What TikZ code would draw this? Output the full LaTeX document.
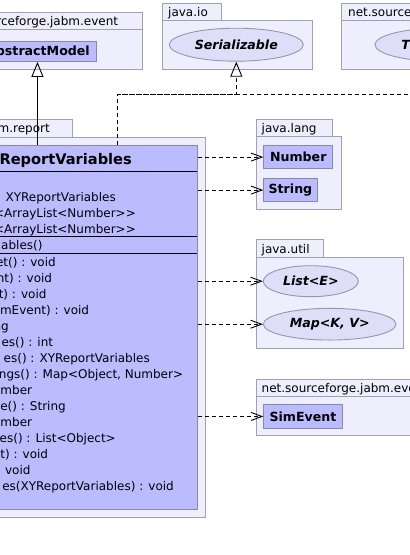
\documentclass[tikz,border=0pt]{standalone}
\usepackage{fontspec}
\setmainfont{DejaVu Sans}
\usetikzlibrary{arrows.meta,shapes.geometric}
\definecolor{pkgfill}{RGB}{238,238,253}
\definecolor{pkgdraw}{RGB}{160,160,180}
\definecolor{clsfill}{RGB}{187,187,255}
\definecolor{clsdraw}{RGB}{136,136,170}
\definecolor{iffill}{RGB}{222,222,248}
\definecolor{ifdraw}{RGB}{150,150,172}
\tikzset{
  pkgbox/.style={draw=pkgdraw, fill=pkgfill, line width=0.9pt, inner sep=0pt, anchor=north west},
  clsbox/.style={draw=clsdraw, fill=clsfill, line width=0.9pt, inner sep=0pt, anchor=north west},
  ifell/.style={ellipse, draw=ifdraw, fill=iffill, line width=0.9pt, inner sep=0pt, font=\fontsize{12.6}{15}\selectfont\bfseries\itshape},
  txt/.style={inner sep=0pt, font=\fontsize{12}{14}\selectfont},
  btxt/.style={inner sep=0pt, font=\fontsize{12.6}{15}\selectfont\bfseries},
  ttxt/.style={inner sep=0pt, font=\fontsize{14.6}{17}\selectfont\bfseries},
  sepline/.style={draw=black, line width=0.9pt},
  dep/.style={draw=black, line width=0.9pt, dash pattern=on 4pt off 3pt, -{Straight Barb[length=11pt,width=8pt]}},
  realiz/.style={draw=black, line width=0.9pt, dash pattern=on 4pt off 3pt, -{Triangle[open,length=15pt,width=12pt]}},
  inh/.style={draw=black, line width=0.9pt, -{Triangle[open,length=15pt,width=12pt]}}
}
\begin{document}
\begin{tikzpicture}[x=1pt,y=-1pt]
\useasboundingbox (0,0) rectangle (410,555);
\clip (0,0) rectangle (410,555);

% packages
\node[pkgbox, minimum width=241.7pt, minimum height=17.3pt] (pevtab) at (-100,11.7) {};
\node[pkgbox, minimum width=241.7pt, minimum height=40pt] (pev) at (-100,29) {};
\node[txt, anchor=base east] (pevl) at (118.3,25) {net.sourceforge.jabm.event};

\node[pkgbox, minimum width=59.3pt, minimum height=17pt] (piotab) at (161.7,3) {};
\node[pkgbox, minimum width=150pt, minimum height=49.3pt] (pio) at (161.7,20) {};
\node[txt, anchor=base west] (piol) at (168,16) {java.io};

\node[pkgbox, minimum width=180pt, minimum height=17pt] (prttab) at (341,3) {};
\node[pkgbox, minimum width=180pt, minimum height=49.3pt] (prt) at (341,20) {};
\node[txt, anchor=base west] (prtl) at (348,16) {net.sourceforge.jabm.report};

\node[pkgbox, minimum width=171.7pt, minimum height=17.4pt] (prptab) at (-100,119.3) {};
\node[pkgbox, minimum width=305pt, minimum height=380pt] (prp) at (-100,136.7) {};
\node[txt, anchor=base east] (prpl) at (50,132.6) {net.sourceforge.jabm.report};

\node[pkgbox, minimum width=76pt, minimum height=16.7pt] (plgtab) at (255.7,119.3) {};
\node[pkgbox, minimum width=85pt, minimum height=73.3pt] (plg) at (255.7,136) {};
\node[txt, anchor=base west] (plgl) at (261.5,132.4) {java.lang};

\node[pkgbox, minimum width=67.6pt, minimum height=18pt] (putab) at (255.7,239.3) {};
\node[pkgbox, minimum width=147.6pt, minimum height=90.4pt] (pu) at (255.7,257.3) {};
\node[txt, anchor=base west] (pul) at (261.5,253) {java.util};

\node[pkgbox, minimum width=250pt, minimum height=17pt] (pev2tab) at (255.7,379) {};
\node[pkgbox, minimum width=250pt, minimum height=39pt] (pev2) at (255.7,396) {};
\node[txt, anchor=base west] (pev2l) at (261.5,392) {net.sourceforge.jabm.event};

% AbstractModel
\node[clsbox, minimum width=117.4pt, minimum height=20pt] (am) at (-21.7,41) {};
\node[btxt, anchor=base east] (aml) at (90,55.6) {AbstractModel};

% interfaces
\node[ifell, minimum width=134pt, minimum height=33pt] (ser) at (236.3,44.7) {Serializable};
\node[ifell, minimum width=130pt, minimum height=33pt] (ts) at (440,44.7) {Timeseries};
\node[ifell, minimum width=95pt, minimum height=31pt] (lst) at (310.8,281.2) {List<E>};
\node[ifell, minimum width=132.7pt, minimum height=31.7pt] (map) at (329.7,324.2) {Map<K, V>};

% small classes
\node[clsbox, minimum width=69pt, minimum height=23.3pt] (num) at (263.3,145) {};
\node[btxt] (numl) at (num.center) {Number};
\node[clsbox, minimum width=53.4pt, minimum height=22.7pt] (str) at (263.3,178.3) {};
\node[btxt] (strl) at (str.center) {String};
\node[clsbox, minimum width=78.4pt, minimum height=23.4pt] (sev) at (263.3,404.3) {};
\node[btxt] (sevl) at (sev.center) {SimEvent};

% main class
\node[clsbox, minimum width=285.3pt, minimum height=364pt] (cls) at (-88,145) {};
\draw[sepline] (-88,171) -- (197.3,171);
\draw[sepline] (-88,236.3) -- (197.3,236.3);
\draw[sepline] (-88,253.3) -- (197.3,253.3);
\node[ttxt, anchor=base east] (ttl) at (132,164) {XYReportVariables};

\node[txt, anchor=base east] (a1) at (116,201.7) {: XYReportVariables};
\node[txt, anchor=base east] (a2) at (136,217.7) {<ArrayList<Number>{}>};
\node[txt, anchor=base east] (a3) at (136,233.5) {<ArrayList<Number>{}>};
\node[txt, anchor=base east] (c1) at (42.7,249.5) {ables()};

\node[txt, anchor=base east] (m1) at (56,266.7) {et() : void};
\node[txt, anchor=base east] (m2) at (52.3,282.6) {nt) : void};
\node[txt, anchor=base east] (m3) at (46.7,298.6) {t) : void};
\node[txt, anchor=base east] (m4) at (89.3,314.5) {imEvent) : void};
\node[txt, anchor=base east] (m5) at (9,330.5) {ng};
\node[txt, anchor=base east] (m6) at (53.3,346.4) {es() : int};
\node[txt, anchor=base east] (m7) at (150,362.4) {es() : XYReportVariables};
\node[txt, anchor=base east] (m8) at (183.3,378.3) {ngs() : Map<Object, Number>};
\node[txt, anchor=base east] (m9) at (32.3,394.3) {mber};
\node[txt, anchor=base east] (m10) at (66,410.2) {e() : String};
\node[txt, anchor=base east] (m11) at (32.3,426.2) {mber};
\node[txt, anchor=base west] (m12) at (-0.5,442.1) {es() : List<Object>};
\node[txt, anchor=base east] (m13) at (48.3,458.1) {nt) : void};
\node[txt, anchor=base east] (m14) at (30.7,474) {void};
\node[txt, anchor=base east] (m15) at (174,490) {es(XYReportVariables) : void};

% connectors
\draw[inh] (cls.north -| am.south) -- (am.south);
\coordinate (bend) at (117,94.3);
\draw[realiz] (cls.north -| bend) -- (bend) -| (ser.south);
\draw[realiz] (bend) -| (ts.south);
\draw[dep] (num.west -| cls.east) -- (num.west);
\draw[dep] (str.west -| cls.east) -- (str.west);
\draw[dep] (lst.west -| cls.east) -- (lst.west);
\draw[dep] (map.west -| cls.east) -- (map.west);
\draw[dep] (sev.west -| cls.east) -- (sev.west);
\end{tikzpicture}
\end{document}
